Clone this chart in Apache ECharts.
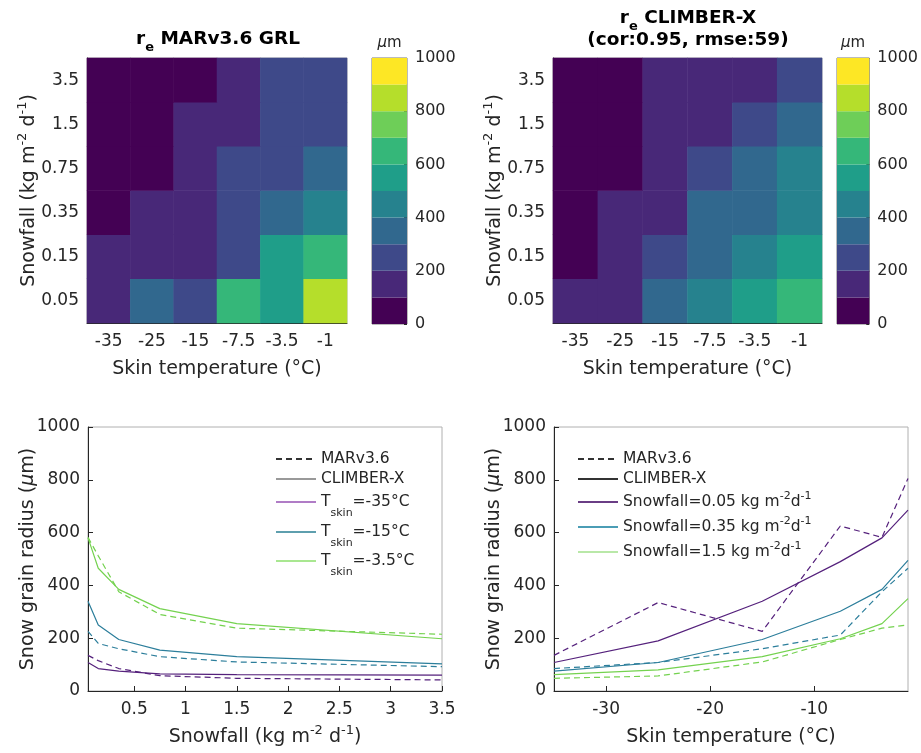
<!DOCTYPE html>
<html>
<head>
<meta charset="utf-8">
<script src="https://cdn.jsdelivr.net/npm/echarts@6/dist/echarts.min.js"></script>
<style>
  html, body { margin: 0; padding: 0; background: #fff; }
  #main { width: 921px; height: 753px; }
</style>
</head>
<body>
<div id="main"></div>
<script>
// categories of the two heatmaps
const tempCats = ['-35', '-25', '-15', '-7.5', '-3.5', '-1'];
const snowCats = ['0.05', '0.15', '0.35', '0.75', '1.5', '3.5'];
const tempVals = [-35, -25, -15, -7.5, -3.5, -1];
const snowVals = [0.05, 0.15, 0.35, 0.75, 1.5, 3.5];

// grain radius (um), rows = snowfall (0.05 .. 3.5), cols = skin temperature (-35 .. -1)
const marRows = [
  [135, 335, 226, 625, 582, 805],
  [115, 170, 180, 260, 512, 640],
  [ 85, 108, 160, 212, 376, 465],
  [ 58,  80, 130, 220, 290, 350],
  [ 48,  57, 110, 195, 238, 250],
  [ 42,  50,  92, 150, 215, 235]
];
const climberRows = [
  [108, 190, 340, 490, 580, 685],
  [ 85, 140, 250, 360, 465, 560],
  [ 75, 108, 195, 302, 385, 495],
  [ 65,  90, 155, 250, 312, 420],
  [ 62,  80, 130, 198, 255, 350],
  [ 60,  75, 103, 150, 198, 260]
];

// colour bar
const cbarEdges = [0, 100, 200, 300, 400, 500, 600, 700, 800, 900, 1000];
const viridis10 = ['#440154', '#482878', '#3e4989', '#31688e', '#26828e',
                   '#1f9e89', '#35b779', '#6ece58', '#b5de2b', '#fde725'];

// line panels
const snowTicks = [0.5, 1, 1.5, 2, 2.5, 3, 3.5];
const tempTicks = [-30, -20, -10];
const leftPick = [0, 2, 4];    // columns: Tskin = -35, -15, -3.5
const rightPick = [0, 2, 4];   // rows: snowfall = 0.05, 0.35, 1.5
const curveCols = ['#55217c', '#2c7e9b', '#74d24f'];
const leftLegCols = ['#b07cc6', '#5e9fae', '#a9e791'];
const rightLegCols = ['#6a3d85', '#4b9db5', '#b9e8a8'];

const FONT = 'DejaVu Sans';
const INK = '#262626';

let chart = echarts.init(document.getElementById('main'));

let titleRich = {
  b: { fontWeight: 'bold', fontSize: 18.5, fontFamily: FONT, color: '#000', lineHeight: 22 },
  bs: { fontWeight: 'bold', fontSize: 13, fontFamily: FONT, color: '#000', lineHeight: 13, padding: [18, 0, 0, 0] }
};
let supRich = { sup: { fontSize: 13, fontFamily: FONT, color: INK, lineHeight: 14, padding: [0, 0, 14, 0] } };
let italRich = { i: { fontStyle: 'italic', fontSize: 19, fontFamily: FONT, color: INK } };
let noComma = function(v){ return String(v); };

function heatX(gi){
  return {
    type: 'category', gridIndex: gi, data: tempCats,
    axisLine: { lineStyle: { color: INK } },
    axisTick: { inside: true, alignWithLabel: true, length: 4, lineStyle: { color: INK } },
    axisLabel: { fontSize: 17, fontFamily: FONT, color: INK, margin: 10 },
    name: 'Skin temperature (°C)', nameLocation: 'middle', nameGap: 37, nameMoveOverlap: false,
    nameTextStyle: { fontSize: 19, fontFamily: FONT, color: INK }
  };
}
function heatY(gi){
  return {
    type: 'category', gridIndex: gi, data: snowCats,
    axisLine: { lineStyle: { color: INK } },
    axisTick: { inside: true, alignWithLabel: true, length: 4, lineStyle: { color: INK } },
    axisLabel: { fontSize: 17, fontFamily: FONT, color: INK, margin: 8 },
    name: 'Snowfall (kg m{sup|-2} d{sup|-1})', nameLocation: 'middle', nameGap: 48, nameMoveOverlap: false,
    nameTextStyle: { fontSize: 19, fontFamily: FONT, color: INK, rich: supRich }
  };
}
function cbarX(gi){
  return {
    type: 'category', gridIndex: gi, data: [''], position: 'top',
    axisLine: { show: false }, axisTick: { show: false }, axisLabel: { show: false },
    name: '{i|μ}m', nameLocation: 'middle', nameGap: 7,
    nameTextStyle: { fontSize: 15, fontFamily: FONT, color: INK, rich: { i: { fontStyle: 'italic', fontSize: 15, fontFamily: FONT, color: INK } } }
  };
}
function cbarY(gi){
  return {
    type: 'value', gridIndex: gi, min: 0, max: 1000, interval: 200, position: 'right',
    axisLine: { show: false },
    axisTick: { show: true, inside: true, length: 3, lineStyle: { color: INK } },
    axisLabel: { fontSize: 16, fontFamily: FONT, color: INK, margin: 8, formatter: noComma },
    splitLine: { show: false }
  };
}
function lineY(gi){
  return {
    type: 'value', gridIndex: gi, min: 0, max: 1000, interval: 200,
    axisLine: { show: true, lineStyle: { color: INK } },
    axisTick: { show: true, inside: true, length: 5, lineStyle: { color: INK } },
    axisLabel: { fontSize: 17, fontFamily: FONT, color: INK, margin: 8, formatter: noComma },
    splitLine: { show: false },
    name: 'Snow grain radius ({i|μ}m)', nameLocation: 'middle', nameGap: 50, nameMoveOverlap: false,
    nameTextStyle: { fontSize: 19, fontFamily: FONT, color: INK, rich: italRich }
  };
}
function lineX(gi, min, max, ticks, name){
  return {
    type: 'value', gridIndex: gi, min: min, max: max,
    axisLine: { show: true, lineStyle: { color: INK } },
    axisTick: { show: true, inside: true, length: 5, customValues: ticks, lineStyle: { color: INK } },
    axisLabel: { fontSize: 17, fontFamily: FONT, color: INK, margin: 10, customValues: ticks },
    splitLine: { show: false },
    name: name, nameLocation: 'middle', nameGap: 37, nameMoveOverlap: false,
    nameTextStyle: { fontSize: 19, fontFamily: FONT, color: INK, rich: supRich }
  };
}

let series = [];

// heatmaps
[marRows, climberRows].forEach(function(rows, k){
  let data = [];
  rows.forEach(function(row, i){
    row.forEach(function(v, j){ data.push([j, i, v]); });
  });
  series.push({ type: 'heatmap', xAxisIndex: k, yAxisIndex: k, data: data, silent: true, emphasis: { disabled: true } });
});

// colour bars (stacked bars)
[2, 3].forEach(function(ax){
  for (let k = 0; k < viridis10.length; k++){
    series.push({
      type: 'bar', xAxisIndex: ax, yAxisIndex: ax, stack: 'cb' + ax, barWidth: '100%', silent: true,
      data: [cbarEdges[k + 1] - cbarEdges[k]], itemStyle: { color: viridis10[k] }
    });
  }
});

// line curves
leftPick.forEach(function(ti, n){
  series.push({ type: 'line', xAxisIndex: 4, yAxisIndex: 4, symbol: 'none', silent: true,
    data: snowVals.map((s, i) => [s, marRows[i][ti]]),
    lineStyle: { color: curveCols[n], width: 1.2, type: [6, 4] } });
  series.push({ type: 'line', xAxisIndex: 4, yAxisIndex: 4, symbol: 'none', silent: true,
    data: snowVals.map((s, i) => [s, climberRows[i][ti]]),
    lineStyle: { color: curveCols[n], width: 1.2 } });
});
rightPick.forEach(function(si, n){
  series.push({ type: 'line', xAxisIndex: 5, yAxisIndex: 5, symbol: 'none', silent: true,
    data: tempVals.map((t, j) => [t, marRows[si][j]]),
    lineStyle: { color: curveCols[n], width: 1.2, type: [6, 4] } });
  series.push({ type: 'line', xAxisIndex: 5, yAxisIndex: 5, symbol: 'none', silent: true,
    data: tempVals.map((t, j) => [t, climberRows[si][j]]),
    lineStyle: { color: curveCols[n], width: 1.2 } });
});

// legend-only series: name, colour, dashed, x, y (icon centre), text, box height
let legendDefs = [
  ['lmar', '#333', true, 275, 459, 'MARv3.6', 18],
  ['lcli', '#999', false, 275, 479, 'CLIMBER-X', 18],
  ['lt35', leftLegCols[0], false, 275, 503, 'T{s|skin}=-35°C', 35],
  ['lt15', leftLegCols[1], false, 275, 533, 'T{s|skin}=-15°C', 35],
  ['lt3', leftLegCols[2], false, 275, 562, 'T{s|skin}=-3.5°C', 35],
  ['rmar', '#333', true, 577, 459, 'MARv3.6', 18],
  ['rcli', '#333', false, 577, 479, 'CLIMBER-X', 18],
  ['rs005', rightLegCols[0], false, 577, 503, 'Snowfall=0.05 kg m{p|-2}d{p|-1}', 25],
  ['rs035', rightLegCols[1], false, 577, 528, 'Snowfall=0.35 kg m{p|-2}d{p|-1}', 25],
  ['rs15', rightLegCols[2], false, 577, 553, 'Snowfall=1.5 kg m{p|-2}d{p|-1}', 25]
];
let legendText = {};
let legends = [];
legendDefs.forEach(function(d){
  legendText[d[0]] = d[5];
  series.push({ type: 'line', name: d[0], xAxisIndex: 4, yAxisIndex: 4, symbol: 'none', symbolSize: 0, data: [],
    lineStyle: { color: d[1], width: 1.2, type: d[2] ? [6, 4] : 'solid' }, itemStyle: { color: d[1] } });
  legends.push({
    data: [d[0]], left: d[3], top: d[4] - d[6] / 2, selectedMode: false, padding: 0,
    itemWidth: 40, itemHeight: 14, itemGap: 0,
    itemStyle: { opacity: 0 },
    formatter: function(name){ return legendText[name]; },
    textStyle: {
      fontSize: 15.5, fontFamily: FONT, color: INK, lineHeight: 18,
      rich: {
        s: { fontSize: 11, fontFamily: FONT, color: INK, lineHeight: 13, padding: [22, 0, 0, 0] },
        p: { fontSize: 11, fontFamily: FONT, color: INK, lineHeight: 13, padding: [0, 0, 12, 0] }
      }
    }
  });
});

let grids = [
  { left: 87, top: 58, width: 260, height: 265 },
  { left: 553, top: 58, width: 269, height: 265 },
  { left: 372, top: 58, width: 35, height: 266 },
  { left: 837, top: 58, width: 35, height: 266 },
  { left: 88, top: 427, width: 354, height: 264 },
  { left: 554, top: 427, width: 354, height: 264 }
];
grids.forEach(function(g, i){
  g.show = true;
  g.borderColor = i === 2 || i === 3 ? '#777' : '#b0b0b0';
  g.borderWidth = 1;
  g.containLabel = false;
});

let pieces = [];
for (let k = 0; k < viridis10.length; k++){
  pieces.push({ gte: cbarEdges[k], lt: cbarEdges[k + 1], color: viridis10[k] });
}

let option = {
  backgroundColor: '#fff',
  animation: false,
  title: [
    { text: '{b|r}{bs|e}{b| MARv3.6 GRL}', left: 218, top: 28, textAlign: 'center', padding: 0,
      textStyle: { rich: titleRich } },
    { text: '{b|r}{bs|e}{b| CLIMBER-X}', left: 688, top: 7, textAlign: 'center', padding: 0,
      textStyle: { rich: titleRich } },
    { text: '(cor:0.95, rmse:59)', left: 688, top: 29, textAlign: 'center', padding: 0,
      textStyle: { fontWeight: 'bold', fontSize: 18.5, fontFamily: FONT, color: '#000', lineHeight: 22 } }
  ],
  grid: grids,
  visualMap: { type: 'piecewise', show: false, seriesIndex: [0, 1], pieces: pieces },
  legend: legends,
  xAxis: [heatX(0), heatX(1), cbarX(2), cbarX(3),
          lineX(4, 0.05, 3.5, snowTicks, 'Snowfall (kg m{sup|-2} d{sup|-1})'),
          lineX(5, -35, -1, tempTicks, 'Skin temperature (°C)')],
  yAxis: [heatY(0), heatY(1), cbarY(2), cbarY(3), lineY(4), lineY(5)],
  series: series
};

chart.setOption(option);
</script>
</body>
</html>
